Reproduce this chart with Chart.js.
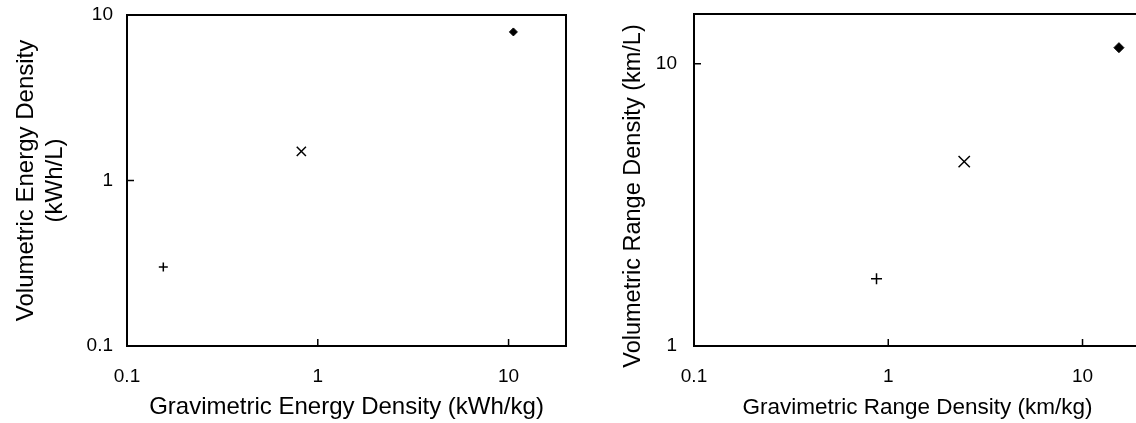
<!DOCTYPE html>
<html><head><meta charset="utf-8">
<script src="https://cdn.jsdelivr.net/npm/chart.js@4"></script>
<style>
html,body{margin:0;padding:0;background:#fff;overflow:hidden;width:1136px;height:423px}
#wrap{position:relative;width:1136px;height:423px;overflow:hidden;background:#fff}
.box{position:absolute;top:0}
</style></head><body>
<div id="wrap">
<div class="box" style="left:0;width:580px;height:423px"><canvas id="c1" width="580" height="423"></canvas></div>
<div class="box" style="left:580px;width:600px;height:423px"><canvas id="c2" width="600" height="423"></canvas></div>
</div>
<script>
// ---- data ----
const markerStyles = ['cross', 'crossRot', 'rectRot'];
const energyGrav = [0.155, 0.82, 10.6];  // kWh/kg
const energyVol  = [0.30, 1.5, 7.9];     // kWh/L
const rangeGrav  = [0.87, 2.46, 15.4];   // km/kg
const rangeVol   = [1.73, 4.5, 11.4];    // km/L
const energyXTicks = [0.1, 1, 10];
const energyYTicks = [0.1, 1, 10];
const rangeXTicks  = [0.1, 1, 10];
const rangeYTicks  = [1, 10];

const FONT = "'Liberation Sans', Arial, sans-serif";
Chart.defaults.font.family = FONT;
Chart.defaults.color = '#000';

const framePlugin = {
  id: 'frame',
  afterDraw(chart) {
    const {ctx, chartArea: a, scales} = chart;
    ctx.save();
    ctx.strokeStyle = '#000';
    ctx.lineWidth = 1.5;
    ctx.beginPath();
    scales.x.ticks.forEach(t => {
      const px = scales.x.getPixelForValue(t.value);
      if (px > a.left + 2 && px < a.right - 2) { ctx.moveTo(px, a.bottom); ctx.lineTo(px, a.bottom - 7); }
    });
    scales.y.ticks.forEach(t => {
      const py = scales.y.getPixelForValue(t.value);
      if (py > a.top + 2 && py < a.bottom - 2) { ctx.moveTo(a.left, py); ctx.lineTo(a.left + 7, py); }
    });
    ctx.stroke();
    ctx.lineWidth = 2;
    ctx.strokeRect(a.left, a.top, a.right - a.left, a.bottom - a.top);
    // optional custom-drawn y title (rotated), centred with an offset
    const yt = chart.options.plugins.frame && chart.options.plugins.frame.yTitle;
    if (yt) {
      ctx.fillStyle = '#000';
      ctx.font = yt.size + 'px ' + FONT;
      ctx.textAlign = 'center';
      ctx.textBaseline = 'middle';
      ctx.translate(yt.x, (a.top + a.bottom) / 2 + yt.dy);
      ctx.rotate(-Math.PI / 2);
      ctx.fillText(yt.text, 0, 0);
    }
    ctx.restore();
  }
};

function makeDatasets(xs, ys, radii) {
  return xs.map((x, i) => ({
    label: 'S' + (i + 1),
    data: [{x: x, y: ys[i]}],
    pointStyle: markerStyles[i],
    pointRadius: radii[i],
    pointHoverRadius: radii[i],
    borderColor: '#000',
    backgroundColor: '#000',
    pointBorderWidth: i === 2 ? 1 : 1.5,
    showLine: false
  }));
}

function makeChart(id, cfg) {
  return new Chart(document.getElementById(id), {
    type: 'scatter',
    data: {datasets: makeDatasets(cfg.xs, cfg.ys, cfg.radii)},
    plugins: [framePlugin],
    options: {
      responsive: false,
      animation: false,
      layout: {padding: cfg.pad},
      plugins: {legend: {display: false}, tooltip: {enabled: false}, frame: {yTitle: cfg.customY || null}},
      scales: {
        x: {
          type: 'logarithmic', min: cfg.xmin, max: cfg.xmax,
          afterBuildTicks: s => { s.ticks = cfg.xticks.map(v => ({value: v})); },
          afterFit: s => { s.height = cfg.xh; s.paddingLeft = 0; s.paddingRight = 0; },
          ticks: {callback: v => String(v), font: {size: 19}, color: '#000', padding: cfg.xtpad, maxRotation: 0, autoSkip: false},
          grid: {display: false, drawTicks: false},
          border: {display: false},
          title: {display: true, text: cfg.xtitle, font: {size: cfg.xtsize}, color: '#000', padding: {top: 0, bottom: cfg.xtitlePad}}
        },
        y: {
          type: 'logarithmic', min: cfg.ymin, max: cfg.ymax,
          afterBuildTicks: s => { s.ticks = cfg.yticks.map(v => ({value: v})); },
          afterFit: s => { s.width = cfg.yw; s.paddingTop = 0; s.paddingBottom = 0; },
          ticks: {callback: v => String(v), font: {size: 19}, color: '#000', padding: cfg.ytpad, autoSkip: false},
          grid: {display: false, drawTicks: false},
          border: {display: false},
          title: {display: !!cfg.ytitle, text: cfg.ytitle || '', font: {size: cfg.ytsize}, color: '#000', padding: {top: cfg.ytitlePad, bottom: 0}}
        }
      }
    }
  });
}

makeChart('c1', {
  xs: energyGrav, ys: energyVol, radii: [4.5, 6.5, 4],
  xmin: 0.1, xmax: 20, ymin: 0.1, ymax: 10,
  xticks: energyXTicks, yticks: energyYTicks,
  pad: {top: 15, right: 14, left: 0, bottom: 0},
  xh: 77, yw: 127, xtpad: 19, ytpad: 14, xtsize: 24, ytsize: 24,
  xtitle: 'Gravimetric Energy Density (kWh/kg)', xtitlePad: 1,
  ytitle: ['Volumetric Energy Density', '(kWh/L)'], ytitlePad: 12
});

makeChart('c2', {
  xs: rangeGrav, ys: rangeVol, radii: [5.5, 8, 5],
  xmin: 0.1, xmax: 20, ymin: 1, ymax: 15,
  xticks: rangeXTicks, yticks: rangeYTicks,
  pad: {top: 14, right: 39, left: 0, bottom: 0},
  xh: 77, yw: 114, xtpad: 19, ytpad: 17, xtsize: 22.5, ytsize: 23.5,
  xtitle: 'Gravimetric Range Density (km/kg)', xtitlePad: 2,
  ytitle: null,
  customY: {text: 'Volumetric Range Density (km/L)', size: 23.5, x: 54, dy: 16}
});
</script>
</body></html>
